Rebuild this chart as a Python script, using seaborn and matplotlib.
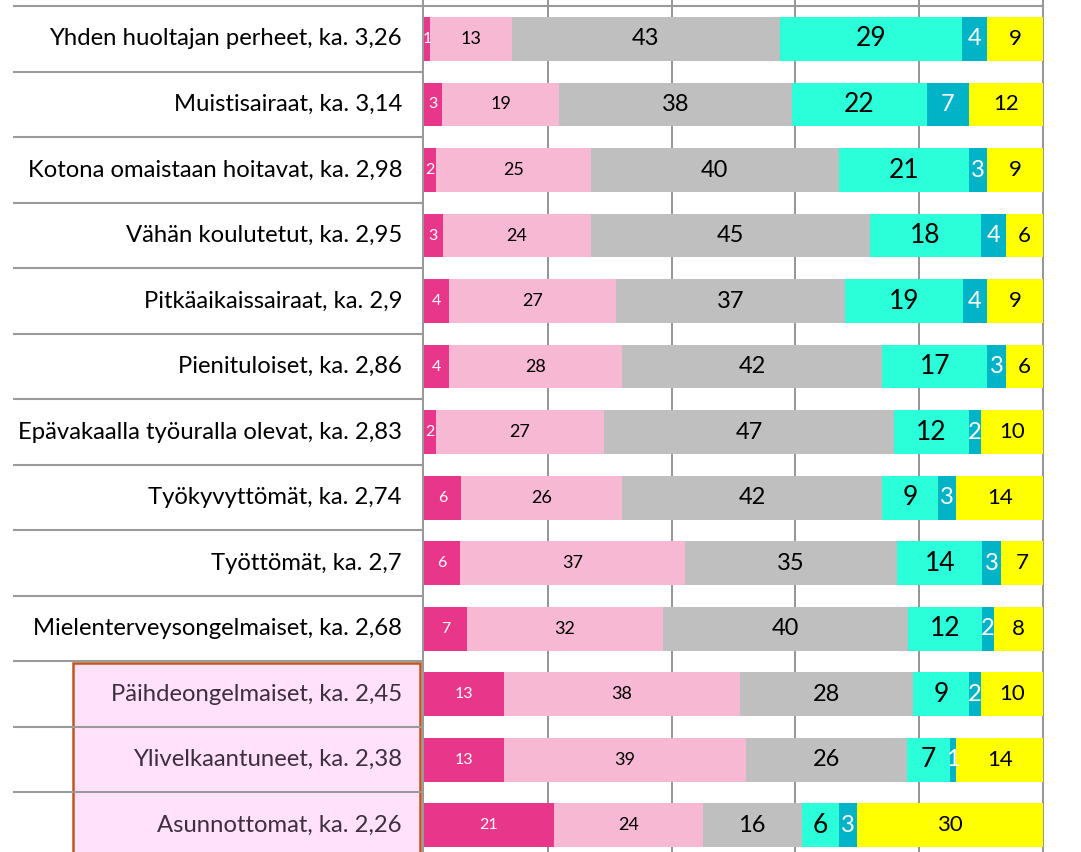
import matplotlib
matplotlib.use("Agg")
import matplotlib.pyplot as plt
import seaborn as sns
import numpy as np
import pandas as pd
from matplotlib.patches import Rectangle


groups = [
    "Yhden huoltajan perheet, ka. 3,26",
    "Muistisairaat, ka. 3,14",
    "Kotona omaistaan hoitavat, ka. 2,98",
    "Vähän koulutetut, ka. 2,95",
    "Pitkäaikaissairaat, ka. 2,9",
    "Pienituloiset, ka. 2,86",
    "Epävakaalla työuralla olevat, ka. 2,83",
    "Työkyvyttömät, ka. 2,74",
    "Työttömät, ka. 2,7",
    "Mielenterveysongelmaiset, ka. 2,68",
    "Päihdeongelmaiset, ka. 2,45",
    "Ylivelkaantuneet, ka. 2,38",
    "Asunnottomat, ka. 2,26",
]

# answer shares in %, columns = the six answer options
seg1 = [1, 3, 2, 3, 4, 4, 2, 6, 6, 7, 13, 13, 21]
seg2 = [13, 19, 25, 24, 27, 28, 27, 26, 37, 32, 38, 39, 24]
seg3 = [43, 38, 40, 45, 37, 42, 47, 42, 35, 40, 28, 26, 16]
seg4 = [29, 22, 21, 18, 19, 17, 12, 9, 14, 12, 9, 7, 6]
seg5 = [4, 7, 3, 4, 4, 3, 2, 3, 3, 2, 2, 1, 3]
seg6 = [9, 12, 9, 6, 9, 6, 10, 14, 7, 8, 10, 14, 30]

highlighted = ["Päihdeongelmaiset, ka. 2,45", "Ylivelkaantuneet, ka. 2,38", "Asunnottomat, ka. 2,26"]

colors = ["#E8378A", "#F6B8D3", "#BFBFBF", "#2BFFD9", "#00B3C7", "#FFFF00"]
text_colors = ["white", "black", "black", "black", "white", "black"]
text_sizes = [11.5, 13, 17, 19, 17, 16]

vals = np.array([seg1, seg2, seg3, seg4, seg5, seg6], dtype=float).T
shares = vals / vals.sum(axis=1, keepdims=True) * 100
cum = shares.cumsum(axis=1)

df = pd.DataFrame(cum, columns=[f"c{k}" for k in range(6)])
df["group"] = groups

W, H = 1081, 852
fig = plt.figure(figsize=(W / 100, H / 100), dpi=100)
ax_lab = fig.add_axes([0, 0, 424 / W, 1])
ax = fig.add_axes([424 / W, 0, (1043 - 424) / W, 1])

font = "Lato"
ylim = (12.41, -0.595)

# gridlines behind bars
for g in [20, 40, 60, 80, 100]:
    ax.axvline(g, color="#8C8C8C", lw=1.3, zorder=0, clip_on=False)

# stacked bars: draw cumulative totals from the longest to the shortest
for k in reversed(range(6)):
    sns.barplot(data=df, x=f"c{k}", y="group", orient="h", color=colors[k],
                saturation=1, width=0.67, errorbar=None, linewidth=0, ax=ax, zorder=2)

for i in range(len(groups)):
    for k in range(6):
        center = cum[i, k] - shares[i, k] / 2
        ax.text(center, i, str(int(vals[i, k])), ha="center", va="center",
                fontsize=text_sizes[k], color=text_colors[k], family=font, zorder=3)

ax.set_xlim(0, 100)
ax.set_ylim(*ylim)
ax.set_xlabel("")
ax.set_ylabel("")
ax.set_xticks([])
ax.set_yticks([])
for s in ax.spines.values():
    s.set_visible(False)
ax.axhline(-0.5, color="#9A9A9A", lw=1.5, clip_on=False)

# label table on the left
ax_lab.set_xlim(0, 424)
ax_lab.set_ylim(*ylim)
ax_lab.axis("off")

n_hi = len(highlighted)
first_hi = groups.index(highlighted[0])
ax_lab.add_patch(Rectangle((73, first_hi - 0.5 + 0.03), 347, n_hi + 1, facecolor="#FFE1FB",
                           edgecolor="#C0561C", lw=1.8, zorder=1))

for i in range(len(groups) + 1):
    ax_lab.hlines(i - 0.5, 13, 424, color="#9A9A9A", lw=1.5, zorder=2)
ax_lab.axvline(423, color="#9A9A9A", lw=1.5, zorder=2)

for i, name in enumerate(groups):
    c = "#3E2F40" if name in highlighted else "black"
    ax_lab.text(402, i, name, ha="right", va="center", fontsize=17.2, color=c,
                family=font, zorder=3)

fig.savefig("out.png", dpi=100)
